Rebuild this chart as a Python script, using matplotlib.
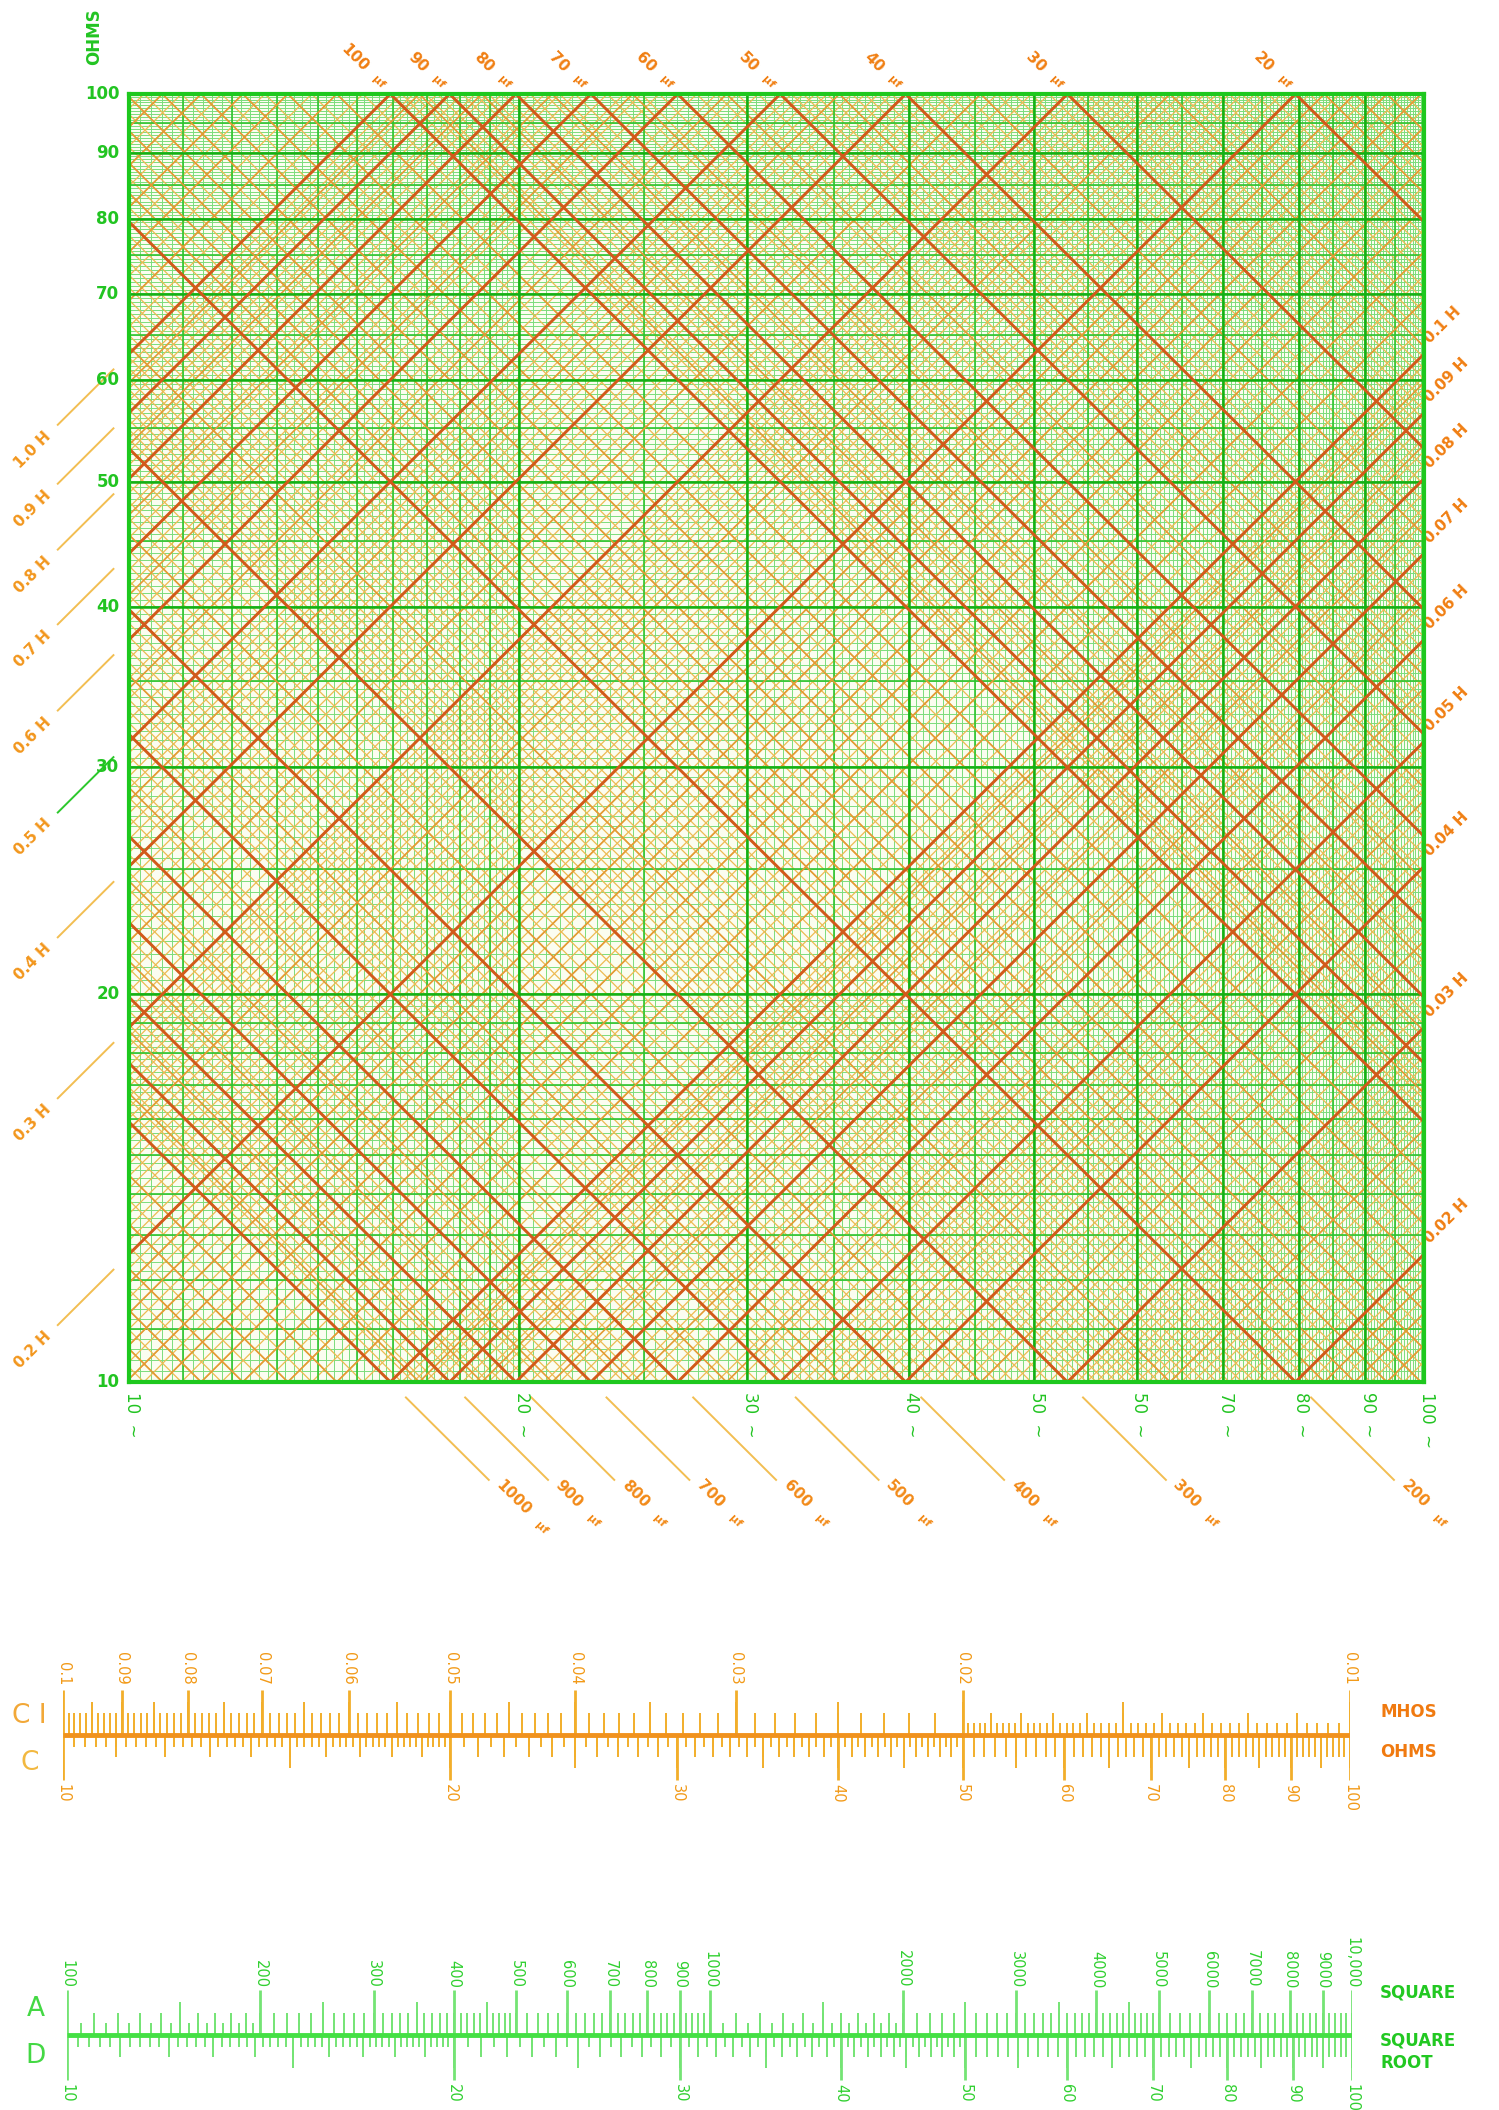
import numpy as np
import matplotlib.pyplot as plt
from matplotlib.collections import LineCollection

plt.rcParams["font.family"] = ["DejaVu Sans"]

# ==========================
# Chart values
# ==========================

# reactance chart: frequency (cycles) across, ohms up, both log
FREQ_TICKS = [10, 20, 30, 40, 50, 60, 70, 80, 90, 100]
FREQ_LABELS = ["10", "20", "30", "40", "50", "50", "70", "80", "90", "100"]
OHM_TICKS = [10, 20, 30, 40, 50, 60, 70, 80, 90, 100]

# graph paper rulings as (from, to, step)
GRID_FINE = [(10, 20, 0.2), (20, 50, 0.5), (50, 100, 0.5)]
GRID_MEDIUM = [(10, 20, 1), (20, 100, 5)]
GRID_MAJOR = [(10, 100, 10)]

# diagonal families: capacitance in uF and inductance in mH use the same numbers
DIAG_FINE = [(10, 30, 0.5), (30, 50, 1), (50, 100, 2),
             (100, 300, 5), (300, 500, 10), (500, 1000, 20), (1000, 1600, 50)]
DIAG_MEDIUM = [(10, 20, 1), (20, 100, 5), (100, 200, 10),
               (200, 1000, 50), (1000, 1600, 100)]
DIAG_MAJOR = [20, 30, 40, 50, 60, 70, 80, 90, 100,
              200, 300, 400, 500, 600, 700, 800, 900, 1000]

CAP_TOP_UF = [100, 90, 80, 70, 60, 50, 40, 30, 20]
CAP_BOTTOM_UF = [1000, 900, 800, 700, 600, 500, 400, 300, 200]
IND_LEFT_H = ["1.0", "0.9", "0.8", "0.7", "0.6", "0.5", "0.4", "0.3", "0.2"]
IND_RIGHT_H = ["0.1", "0.09", "0.08", "0.07", "0.06", "0.05", "0.04", "0.03", "0.02"]

# CI / C slide scale (ohms and mhos)
C_LABELS = [10, 20, 30, 40, 50, 60, 70, 80, 90, 100]
CI_LABELS = ["0.1", "0.09", "0.08", "0.07", "0.06", "0.05", "0.04", "0.03", "0.02", "0.01"]
C_GRAD = [[(10, 20, 0.2), (20, 50, 0.5)], [(10, 100, 1)], [(10, 100, 5)], [(10, 100, 10)]]
CI_GRAD = [[(0.01, 0.02, 0.0002)], [(0.01, 0.1, 0.001)], [(0.01, 0.1, 0.005)], [(0.01, 0.1, 0.01)]]

# A / D slide scale (square and square root)
D_LABELS = [10, 20, 30, 40, 50, 60, 70, 80, 90, 100]
A_LABELS = ["100", "200", "300", "400", "500", "600", "700", "800", "900", "1000",
            "2000", "3000", "4000", "5000", "6000", "7000", "8000", "9000", "10,000"]
D_GRAD = [[(10, 20, 0.2), (20, 50, 0.5)], [(10, 100, 1)], [(10, 100, 5)], [(10, 100, 10)]]
A_GRAD = [[(100, 200, 5), (1000, 2000, 50)],
          [(100, 500, 10), (500, 1000, 20), (1000, 5000, 100), (5000, 10000, 200)],
          [(150, 150, 50), (250, 450, 100), (1500, 1500, 500), (2500, 4500, 1000)],
          [(100, 1000, 100), (1000, 10000, 1000)]]


def ruling(ranges):
    vals = []
    for a, b, step in ranges:
        n = int(round((b - a) / step))
        vals += [a + i * step for i in range(n + 1)]
    return np.unique(np.round(vals, 6))


def x_cap(f, c):
    return 1.0 / (2 * np.pi * f * c)


def x_ind(f, l):
    return 2 * np.pi * f * l


W, H = 1499, 2110
fig = plt.figure(figsize=(W / 100, H / 100), dpi=100)

G_MAJOR, G_MED, G_FINE = "#14B014", "#30C430", "#7CDC7C"
O_MAJOR, O_MED, O_FINE = "#D25A1A", "#E49A34", "#EDBA52"
G_TEXT, O_TEXT = "#22C422", "#F07E12"

# ==========================
# Reactance chart
# ==========================

ax = fig.add_axes([129 / W, 1 - 1382 / H, 1295 / W, 1288 / H])
ax.set_xscale("log")
ax.set_yscale("log")
ax.set_facecolor("#FBFDF0")


def hv_lines(vals, z, **kw):
    segs = [[(10, v), (100, v)] for v in vals] + [[(v, 10), (v, 100)] for v in vals]
    ax.add_collection(LineCollection(segs, zorder=z, **kw), autolim=False)


def diag_lines(vals, z, **kw):
    segs = []
    for v in vals:
        segs.append([(10, x_cap(10, v * 1e-6)), (100, x_cap(100, v * 1e-6))])
        segs.append([(10, x_ind(10, v * 1e-3)), (100, x_ind(100, v * 1e-3))])
    ax.add_collection(LineCollection(segs, zorder=z, **kw), autolim=False)


hv_lines(ruling(GRID_FINE), 1, colors=G_FINE, linewidths=0.7)
diag_lines(ruling(DIAG_FINE), 2, colors=O_FINE, linewidths=0.9)
hv_lines(ruling(GRID_MEDIUM), 3, colors=G_MED, linewidths=1.2)
diag_lines(ruling(DIAG_MEDIUM), 4, colors=O_MED, linewidths=1.2)
hv_lines(ruling(GRID_MAJOR), 5, colors=G_MAJOR, linewidths=1.8)
diag_lines(DIAG_MAJOR, 6, colors=O_MAJOR, linewidths=2.1)

ax.set_xlim(10, 100)
ax.set_ylim(10, 100)
ax.tick_params(which="both", bottom=False, left=False, labelbottom=False, labelleft=False)
for sp in ax.spines.values():
    sp.set_color("#1EC81E")
    sp.set_linewidth(3)
    sp.set_zorder(10)

# ohms labels
for v in OHM_TICKS:
    ax.annotate(str(v), (10, v), xytext=(-7, 0), textcoords="offset points",
                ha="right", va="center", fontsize=12, fontweight="bold", color=G_TEXT)

# frequency labels
for v, lab in zip(FREQ_TICKS, FREQ_LABELS):
    ax.annotate(lab + "  ~", (v, 10), xytext=(2, -7), textcoords="offset points",
                ha="left", va="center", rotation=-90, rotation_mode="anchor",
                fontsize=12, color=G_TEXT)

fig.text(94 / W, 1 - 37 / H, "OHMS", rotation=90, ha="center", va="center",
         fontsize=12, fontweight="bold", color=G_TEXT)

# capacitance labels along the top edge
for c in CAP_TOP_UF:
    ft = 1 / (2 * np.pi * 100 * c * 1e-6)
    s = 0.019
    ax.text(ft * 10 ** -s, 100 * 10 ** s, str(c), rotation=-45, rotation_mode="anchor",
            ha="right", va="center", fontsize=11, fontweight="bold", color=O_TEXT)
    s = 0.009
    ax.text(ft * 10 ** -s, 100 * 10 ** s, "µf", rotation=-45, rotation_mode="anchor",
            ha="center", va="center", fontsize=8, fontweight="bold", color=O_TEXT)

# capacitance labels below the bottom edge, with leaders
for c in CAP_BOTTOM_UF:
    fb = 1 / (2 * np.pi * 10 * c * 1e-6)
    s1, s2 = 0.012, 0.076
    ax.plot([fb * 10 ** s1, fb * 10 ** s2], [10 * 10 ** -s1, 10 * 10 ** -s2],
            color="#F2BE52", lw=1.4, clip_on=False)
    s = 0.081
    ax.text(fb * 10 ** s, 10 * 10 ** -s, str(c), rotation=-45, rotation_mode="anchor",
            ha="left", va="baseline", fontsize=11, fontweight="bold", color="#F28A18")
    s = 0.081 + len(str(c)) * 0.0058 + 0.011
    ax.text(fb * 10 ** s, 10 * 10 ** -s, "µf", rotation=-45, rotation_mode="anchor",
            ha="center", va="baseline", fontsize=8, fontweight="bold", color="#F28A18")

# inductance labels on the left, with leaders
for lab in IND_LEFT_H:
    xl = x_ind(10, float(lab))
    s1, s2 = 0.012, 0.055
    lead = "#2CC82C" if lab == "0.5" else "#F2BE52"
    ax.plot([10 * 10 ** -s1, 10 * 10 ** -s2], [xl * 10 ** -s1, xl * 10 ** -s2],
            color=lead, lw=1.4, clip_on=False)
    s = 0.062
    ax.text(10 * 10 ** -s, xl * 10 ** -s, lab + " H", rotation=45, rotation_mode="anchor",
            ha="right", va="center", fontsize=11, fontweight="bold", color="#F2961C")

# inductance labels on the right
for lab in IND_RIGHT_H:
    xr = x_ind(100, float(lab))
    s = 0.006
    ax.text(100 * 10 ** s, xr * 10 ** s, lab + " H", rotation=45, rotation_mode="anchor",
            ha="left", va="bottom", fontsize=11, fontweight="bold", color=O_TEXT)

# ==========================
# Slide scales
# ==========================

TICK_LEN = [12, 22, 33, 45]


def slide_scale(axs, grads_up, grads_dn, to_pos_up, line_col, tick_col):
    axs.set_xscale("log")
    axs.set_xlim(10, 100)
    axs.axis("off")
    for tier, ranges in enumerate(grads_up):
        axs.vlines(to_pos_up(ruling(ranges)), 0, TICK_LEN[tier], colors=tick_col,
                   linewidth=1.4 if tier < 3 else 2.0)
    for tier, ranges in enumerate(grads_dn):
        axs.vlines(ruling(ranges), -TICK_LEN[tier], 0, colors=tick_col,
                   linewidth=1.4 if tier < 3 else 2.0)
    axs.plot([10, 100], [0, 0], color=line_col, lw=3.5, solid_capstyle="butt")


ax1 = fig.add_axes([63 / W, 1 - 1830 / H, 1287 / W, 190 / H])
ax1.set_ylim(-95, 95)
slide_scale(ax1, CI_GRAD, C_GRAD, lambda v: 1.0 / v, "#F0921E", "#F2AE2A")
for lab in CI_LABELS:
    ax1.text(1.0 / float(lab), 50, lab, rotation=-90, rotation_mode="anchor",
             ha="right", va="center", fontsize=10.5, color="#F29A18")
for v in C_LABELS:
    ax1.text(v, -49, str(v), rotation=-90, rotation_mode="anchor",
             ha="left", va="center", fontsize=10.5, color="#F29A18")

fig.text(29 / W, 1 - 1716 / H, "C I", ha="center", va="center", fontsize=19, color="#F2A838")
fig.text(30 / W, 1 - 1763 / H, "C", ha="center", va="center", fontsize=19, color="#F2B840")
fig.text(1380 / W, 1 - 1712 / H, "MHOS", ha="left", va="center", fontsize=12,
         fontweight="bold", color="#F07A10")
fig.text(1380 / W, 1 - 1752 / H, "OHMS", ha="left", va="center", fontsize=12,
         fontweight="bold", color="#F07A10")

ax2 = fig.add_axes([67 / W, 1 - 2110 / H, 1285 / W, 180 / H])
ax2.set_ylim(-75, 105)
slide_scale(ax2, A_GRAD, D_GRAD, np.sqrt, "#44E044", "#74E474")
for lab in A_LABELS:
    ax2.text(np.sqrt(float(lab.replace(",", ""))), 47, lab, rotation=-90,
             rotation_mode="anchor", ha="right", va="center", fontsize=10.5, color="#30D030")
for v in D_LABELS:
    ax2.text(v, -49, str(v), rotation=-90, rotation_mode="anchor",
             ha="left", va="center", fontsize=10.5, color="#30D030")

fig.text(36 / W, 1 - 2009 / H, "A", ha="center", va="center", fontsize=19, color="#44D844")
fig.text(36 / W, 1 - 2056 / H, "D", ha="center", va="center", fontsize=19, color="#44D844")
fig.text(1380 / W, 1 - 1993 / H, "SQUARE", ha="left", va="center", fontsize=12,
         fontweight="bold", color="#22C822")
fig.text(1380 / W, 1 - 2052 / H, "SQUARE\nROOT", ha="left", va="center", fontsize=12,
         fontweight="bold", color="#22C822", linespacing=1.3)

fig.savefig("out.png", dpi=100)
